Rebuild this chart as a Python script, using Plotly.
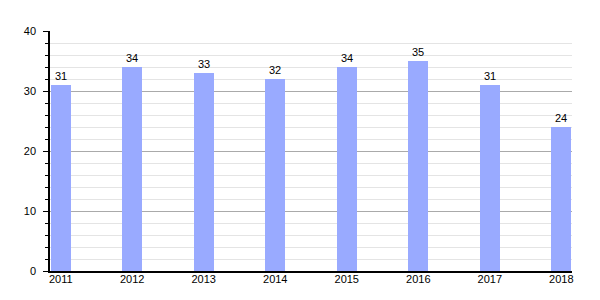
import plotly.graph_objects as go

years = ["2011", "2012", "2013", "2014", "2015", "2016", "2017", "2018"]
values = [31, 34, 33, 32, 34, 35, 31, 24]
y_ticks = [0, 10, 20, 30, 40]

xpos = list(range(len(years)))

fig = go.Figure(go.Bar(
    x=xpos, y=values, width=0.28,
    marker=dict(color="#99aaff", line=dict(width=0)),
    text=[str(v) for v in values], textposition="outside",
    textfont=dict(size=11, color="#000"), cliponaxis=False,
))

fig.update_layout(
    width=600, height=300,
    margin=dict(l=50, r=28, t=31, b=29),
    paper_bgcolor="white", plot_bgcolor="white",
    font=dict(family="Liberation Sans, Arial, sans-serif", size=11, color="#000"),
    showlegend=False,
    bargap=0,
)
fig.update_xaxes(
    range=[-0.15, 7.15], tickvals=xpos, ticktext=years,
    showline=True, linecolor="#000", linewidth=1.5,
    showgrid=False, ticks="", zeroline=False, fixedrange=True,
    ticklabelstandoff=-3,
)
fig.update_yaxes(
    range=[0, 40], tickvals=y_ticks,
    showline=True, linecolor="#000", linewidth=1.5,
    showgrid=True, gridcolor="#aaaaaa", gridwidth=1,
    ticks="outside", ticklen=5, tickcolor="#000",
    minor=dict(dtick=2, showgrid=True, gridcolor="#e4e4e4", gridwidth=1,
               ticks="outside", ticklen=3, tickcolor="#000"),
    zeroline=False, fixedrange=True,
    ticklabelstandoff=5,
)

fig.write_html("out.html")
